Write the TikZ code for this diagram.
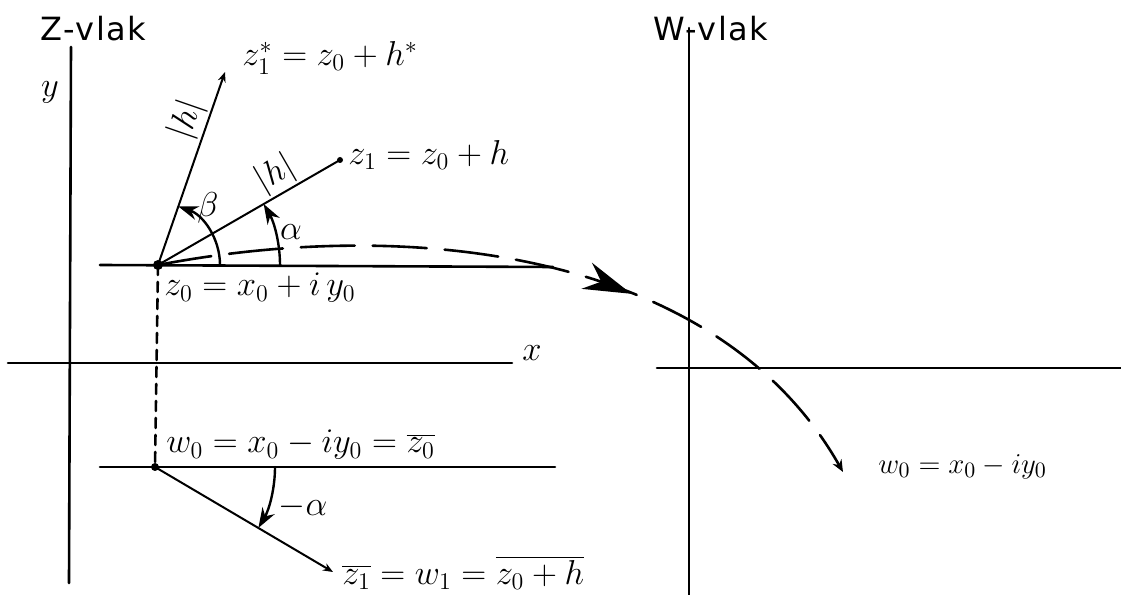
\documentclass[tikz,border=0pt]{standalone}
\usepackage{fontspec}
\setsansfont{DejaVu Sans}[LetterSpace=5]
\usetikzlibrary{arrows.meta,decorations.markings}

\begin{document}
\begin{tikzpicture}[x=0.5pt, y=0.5pt, line join=round, line cap=round, >=Stealth,
  axis/.style={line width=1.3pt},
  ray/.style={line width=1pt},
  angarc/.style={line width=1.2pt, -{Stealth[length=10pt,width=7pt]}},
  lbl/.style={font=\fontsize{18}{21}\selectfont, inner sep=1pt},
  ttl/.style={font=\fontsize{16}{19}\sffamily, inner sep=0pt}]
  \useasboundingbox (0,0) rectangle (1121,595);
  % Z-vlak
  \coordinate (z0) at (158,330);
  \coordinate (z1s) at (225,523);
  \coordinate (z1) at (340,435);
  \coordinate (w0) at (155,128);
  \coordinate (w1) at (333,23);
  \coordinate (zyt) at (71,548);
  \coordinate (zyb) at (69,12);
  \coordinate (zxl) at (8,232);
  \coordinate (zxr) at (512,232);
  \coordinate (hul) at (100,330);
  \coordinate (hur) at (553,328);
  \coordinate (hll) at (100,128);
  \coordinate (hlr) at (555,128);
  % W-vlak
  \coordinate (wyt) at (689,567);
  \coordinate (wyb) at (689,0);
  \coordinate (wxl) at (657,227);
  \coordinate (wxr) at (1121,227);
  \coordinate (w0b) at (843,123);

  \node[ttl, anchor=west] (tz) at (40,566) {Z-vlak};
  \node[ttl, anchor=west] (tw) at (653,566) {W-vlak};
  \node[lbl] (ly) at (50,503) {$y$};
  \node[lbl] (lx) at (532,242) {$x$};

  \draw[axis] (zyb) -- (zyt);
  \draw[axis] (zxl) -- (zxr);
  \draw[axis] (hul) -- (hur);
  \draw[axis] (hll) -- (hlr);
  \draw[axis] (wyb) -- (wyt);
  \draw[axis] (wxl) -- (wxr);
  \draw[axis, dash pattern=on 5pt off 3.5pt] (z0) -- (w0);

  % rays and angles
  \draw[ray, -{Stealth[length=5pt,width=4pt]}] (z0) -- (z1s) node[lbl, pos=0.72, sloped, above] (h1) {$|h|$};
  \draw[ray] (z0) -- (z1) node[lbl, pos=0.7, sloped, above] (h2) {$|h|$};
  \draw[ray, -{Stealth[length=5pt,width=4pt]}] (w0) -- (w1);
  \draw[angarc] ([shift={(62,0)}]z0) arc[start angle=0, end angle=70.9, radius=62];
  \draw[angarc] ([shift={(122,0)}]z0) arc[start angle=0, end angle=30, radius=122];
  \draw[angarc] ([shift={(120,0)}]w0) arc[start angle=0, end angle=-30.5, radius=120];
  \node[lbl] (lb) at (208,387) {$\beta$};
  \node[lbl] (la) at (291,363) {$\alpha$};
  \node[lbl] (lma) at (303,88) {$-\alpha$};

  \fill (z0) circle (5);
  \fill (w0) circle (4);
  \fill (z1) circle (3);

  % mapping
  \draw[axis, dash pattern=on 27pt off 9pt, -{Stealth[length=6pt,width=5pt]},
    postaction={decorate}, decoration={markings, mark=at position 0.63 with {\arrow{Stealth[length=24pt,width=14pt]}}}]
    (z0) .. controls (420,380) and (720,340) .. (w0b);

  \node[lbl, anchor=west] (lz1s) at (240,537) {$z_1^* = z_0 + h^*$};
  \node[lbl, anchor=west] (lz1) at (346,440) {$z_1 = z_0 + h$};
  \node[lbl, anchor=west] (lz0) at (162,307) {$z_0 = x_0 + i\,y_0$};
  \node[lbl, anchor=west] (lw0) at (164,150) {$w_0 = x_0 - i y_0 = \overline{z_0}$};
  \node[lbl, anchor=west] (lw1) at (340,22) {$\overline{z_1} = w_1 = \overline{z_0 + h}$};
  \node[lbl, anchor=west, font=\fontsize{15}{18}\selectfont] (lw0b) at (876,128) {$w_0 = x_0 - i y_0$};
\end{tikzpicture}
\end{document}
